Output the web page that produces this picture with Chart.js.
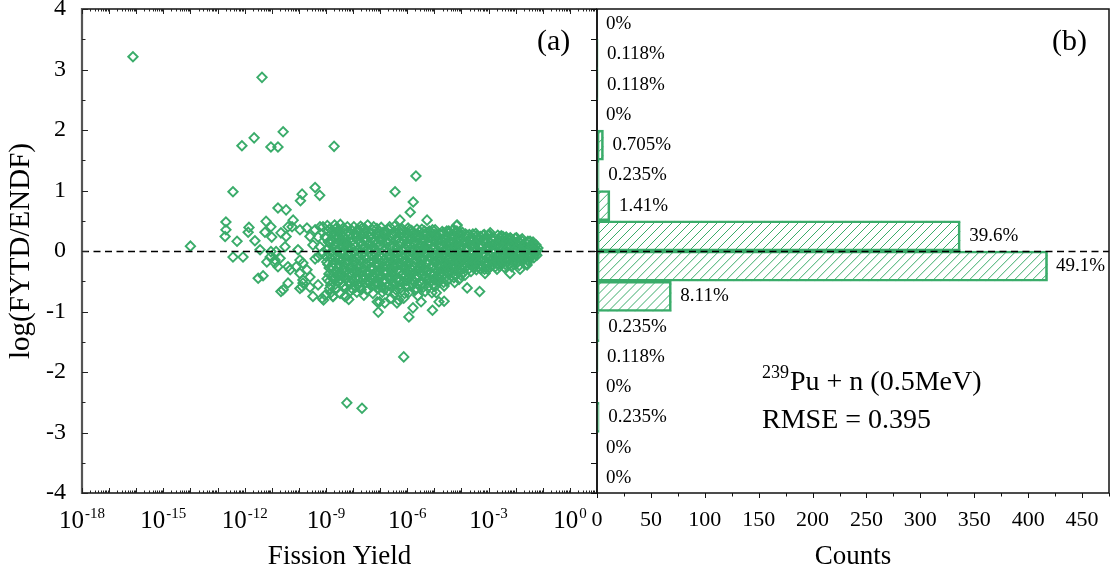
<!DOCTYPE html>
<html>
<head>
<meta charset="utf-8">
<script src="https://cdn.jsdelivr.net/npm/chart.js@4.4.1/dist/chart.umd.min.js"></script>
<style>
  html, body { margin: 0; padding: 0; background: #fff; }
  #wrap { position: relative; width: 1111px; height: 575px; overflow: hidden; background: #fff; }
  #scatter { position: absolute; left: 0; top: 0; }
  #hist { position: absolute; left: 590px; top: 0; }
</style>
</head>
<body>
<div id="wrap">
  <canvas id="scatter" width="600" height="575"></canvas>
  <canvas id="hist" width="521" height="575"></canvas>
</div>
<script>
// ---------------- data ----------------
// Each point: [log10(fission yield), log10(FYTD/ENDF)]
const farPoints = [
  [-16.12,3.21],[-11.36,2.87],[-12.10,1.74],[-11.65,1.87],[-11.03,1.72],[-10.77,1.72],[-10.58,1.97],[-8.70,1.73],
  [-14.00,0.08],
  [-12.43,0.98],[-9.40,1.05],[-9.23,0.92],[-9.88,0.94],[-9.94,0.83],
  [-5.68,1.24],[-6.45,0.98],[-5.78,0.81],[-5.89,0.64],[-6.27,0.51],[-5.27,0.51],[-4.18,0.42],
  [-8.23,-2.51],[-7.67,-2.60],[-6.13,-1.75],[-5.94,-1.09],[-7.07,-1.01],[-5.07,-0.98],
  [-4.64,-0.83],[-4.93,-0.69],[-3.33,-0.67],[-3.79,-0.61],[-5.49,-0.84],[-5.79,-0.94],[-6.38,-0.86],
  [-6.13,-0.78],[-7.02,-0.84],[-8.74,-0.75],[-9.09,-0.81],[-8.26,-0.75]
];

const lowYieldPoints = [
  [-12.69,0.48],[-12.69,0.35],[-12.72,0.24],[-12.28,0.16],[-12.43,-0.10],[-12.06,-0.10],[-11.87,0.31],[-11.84,0.39],
  [-11.62,0.17],[-11.25,0.31],[-11.21,0.49],[-11.43,0.02],[-11.50,-0.45],[-11.32,-0.41],
  [-10.77,0.71],[-10.47,0.68],[-10.21,0.51],
  [-11.03,0.40],[-11.00,0.23],[-10.66,0.30],[-10.47,0.24],[-10.84,-0.01],[-11.03,-0.01],[-10.69,-0.12],
  [-10.88,-0.20],[-10.77,-0.26],[-10.40,-0.26],[-10.32,-0.31],[-10.66,-0.67],[-10.58,-0.64],[-10.40,-0.53],
  [-10.51,0.07],[-10.40,0.40],[-10.25,0.40],[-9.96,0.35],[-10.03,0.02],[-9.70,0.38],[-9.59,0.24],[-9.40,0.35],
  [-9.22,0.40],[-9.11,0.40],[-9.29,0.23],[-9.03,0.23],[-9.96,-0.15],[-9.85,-0.20],[-10.10,-0.26],[-9.70,-0.31],
  [-9.96,-0.37],[-9.85,-0.48],[-9.59,-0.43],[-9.96,-0.62],[-9.85,-0.53],[-9.59,-0.60],[-9.48,-0.75],[-9.29,-0.56],
  [-9.14,-0.78],[-9.03,-0.73],[-9.29,-0.10],[-9.40,-0.13],[-9.14,-0.04],[-9.22,0.07],[-9.48,0.10],
  [-11.06,-0.10],[-10.88,-0.15],[-11.18,-0.18],[-9.88,-0.59]
];

const midYieldPoints = [
  [-8.95,0.42],[-8.62,0.38],[-8.80,0.29],[-8.55,0.21],[-8.91,0.15],[-8.70,0.09],[-8.58,0.02],[-8.86,-0.05],
  [-8.66,-0.11],[-8.97,-0.18],[-8.52,-0.22],[-8.75,-0.27],[-8.61,-0.33],[-8.89,-0.38],[-8.68,-0.44],[-8.56,-0.50],
  [-8.83,-0.57],[-8.74,-0.75],[-8.64,-0.63],[-8.93,0.33],[-8.51,0.30],[-8.78,0.18],[-8.60,-0.01],[-8.88,-0.28],
  [-8.71,-0.47],[-8.54,-0.14],[-8.99,-0.09],[-8.69,0.24],[-8.82,-0.69],[-8.57,0.12],

  [-8.47,0.44],[-8.30,0.36],[-8.12,0.27],[-8.41,0.19],[-8.22,0.11],[-8.05,0.05],[-8.36,-0.02],[-8.18,-0.08],
  [-8.44,-0.15],[-8.26,-0.21],[-8.08,-0.26],[-8.39,-0.31],[-8.15,-0.37],[-8.33,-0.43],[-8.02,-0.48],[-8.46,-0.54],
  [-8.26,-0.61],[-8.10,-0.66],[-8.30,-0.75],[-8.20,0.31],[-8.40,0.08],[-8.03,-0.12],[-8.28,-0.35],[-8.13,-0.55],
  [-8.37,0.23],[-8.06,0.16],[-8.23,-0.45],[-8.49,-0.24],[-8.16,-0.80],[-8.35,0.00],

  [-7.97,0.40],[-7.78,0.34],[-7.62,0.28],[-7.90,0.22],[-7.71,0.14],[-7.55,0.07],[-7.85,0.01],[-7.67,-0.06],
  [-7.52,-0.13],[-7.93,-0.19],[-7.75,-0.24],[-7.58,-0.30],[-7.88,-0.35],[-7.64,-0.41],[-7.81,-0.47],[-7.53,-0.52],
  [-7.95,-0.58],[-7.70,-0.64],[-7.60,-0.73],[-7.83,0.18],[-7.57,0.37],[-7.74,-0.16],[-7.92,-0.44],[-7.66,0.04],
  [-7.50,-0.36],[-7.86,-0.68],[-7.69,0.25],[-7.79,-0.55],[-7.54,-0.21],[-7.99,-0.02],

  [-7.46,0.43],[-7.28,0.35],[-7.10,0.30],[-7.39,0.23],[-7.21,0.16],[-7.04,0.09],[-7.34,0.03],[-7.16,-0.04],
  [-7.42,-0.10],[-7.25,-0.17],[-7.07,-0.23],[-7.37,-0.28],[-7.13,-0.34],[-7.31,-0.40],[-7.02,-0.46],[-7.44,-0.51],
  [-7.19,-0.57],[-7.06,-0.62],[-7.27,-0.70],[-7.11,-0.84],[-7.40,0.12],[-7.23,-0.29],[-7.01,0.20],[-7.33,-0.45],
  [-7.15,0.27],[-7.48,-0.22],[-7.09,-0.12],[-7.30,-0.07],[-7.18,-0.53],[-7.45,-0.64],

  [-6.96,0.39],[-6.79,0.33],[-6.61,0.26],[-6.90,0.20],[-6.72,0.13],[-6.55,0.06],[-6.85,0.00],[-6.66,-0.07],
  [-6.52,-0.14],[-6.93,-0.20],[-6.74,-0.25],[-6.58,-0.31],[-6.88,-0.36],[-6.63,-0.42],[-6.81,-0.48],[-6.54,-0.53],
  [-6.95,-0.59],[-6.70,-0.66],[-6.60,-0.78],[-6.83,-0.86],[-6.68,0.36],[-6.99,0.10],[-6.76,-0.17],[-6.57,-0.38],
  [-6.91,-0.50],[-6.64,0.17],[-6.51,-0.24],[-6.86,0.24],[-6.71,-0.57],[-6.98,-0.30],

  [-6.47,0.41],[-6.30,0.32],[-6.12,0.25],[-6.41,0.18],[-6.22,0.11],[-6.05,0.04],[-6.36,-0.02],[-6.18,-0.09],
  [-6.44,-0.15],[-6.26,-0.21],[-6.08,-0.27],[-6.39,-0.32],[-6.15,-0.38],[-6.33,-0.44],[-6.02,-0.49],[-6.46,-0.55],
  [-6.25,-0.62],[-6.10,-0.70],[-6.32,-0.81],[-6.20,0.37],[-6.04,0.29],[-6.38,0.07],[-6.14,-0.18],[-6.49,-0.40],
  [-6.28,0.14],[-6.06,-0.06],[-6.43,-0.26],[-6.17,-0.52],[-6.35,0.22],[-6.01,-0.35],

  [-5.97,0.38],[-5.80,0.31],[-5.63,0.26],[-5.91,0.19],[-5.73,0.12],[-5.56,0.05],[-5.86,-0.01],[-5.68,-0.08],
  [-5.53,-0.14],[-5.94,-0.19],[-5.76,-0.25],[-5.59,-0.30],[-5.89,-0.36],[-5.65,-0.41],[-5.82,-0.47],[-5.54,-0.52],
  [-5.96,-0.58],[-5.71,-0.65],[-5.61,-0.74],[-5.84,0.34],[-5.58,0.21],[-5.99,0.08],[-5.74,-0.04],[-5.51,-0.21],
  [-5.87,-0.28],[-5.66,-0.45],[-5.79,-0.56],[-5.92,-0.12],[-5.70,0.16],[-5.55,-0.36],

  [-5.46,0.36],[-5.29,0.30],[-5.11,0.24],[-5.40,0.17],[-5.22,0.10],[-5.04,0.04],[-5.35,-0.03],[-5.17,-0.09],
  [-5.43,-0.15],[-5.25,-0.20],[-5.07,-0.26],[-5.38,-0.31],[-5.14,-0.37],[-5.32,-0.42],[-5.01,-0.48],[-5.45,-0.53],
  [-5.24,-0.60],[-5.09,-0.69],[-5.34,-0.67],[-5.19,0.33],[-5.03,0.20],[-5.37,0.07],[-5.13,-0.12],[-5.48,-0.24],
  [-5.27,0.13],[-5.05,-0.05],[-5.42,-0.34],[-5.16,-0.46],[-5.30,0.26],[-5.02,-0.17],

  [-4.97,0.35],[-4.80,0.28],[-4.62,0.22],[-4.91,0.16],[-4.73,0.09],[-4.56,0.03],[-4.86,-0.03],[-4.68,-0.09],
  [-4.52,-0.14],[-4.94,-0.19],[-4.76,-0.24],[-4.59,-0.29],[-4.89,-0.34],[-4.65,-0.39],[-4.82,-0.45],[-4.54,-0.50],
  [-4.96,-0.58],[-4.64,-0.58],[-4.83,-0.84],[-4.71,0.32],[-4.99,0.06],[-4.58,0.13],[-4.78,-0.11],[-4.51,-0.21],
  [-4.87,0.25],[-4.67,-0.31],[-4.92,-0.41],[-4.60,0.19],[-4.74,-0.02],

  [-4.47,0.33],[-4.30,0.27],[-4.12,0.21],[-4.41,0.15],[-4.22,0.09],[-4.05,0.03],[-4.36,-0.02],[-4.18,-0.07],
  [-4.44,-0.12],[-4.26,-0.17],[-4.08,-0.22],[-4.39,-0.27],[-4.15,-0.31],[-4.33,-0.36],[-4.02,-0.40],[-4.46,-0.46],
  [-4.25,-0.52],[-4.16,0.43],[-4.06,0.30],[-4.29,0.36],[-4.38,0.05],[-4.13,-0.14],[-4.49,-0.21],[-4.21,0.18],
  [-4.03,-0.09],[-4.42,-0.33],[-4.10,0.12],[-4.34,-0.04],[-4.19,-0.26],[-4.27,0.24]
];

const coreExtraPoints = [
  [-8.90,0.05],[-8.73,-0.20],[-8.59,-0.40],[-8.85,0.37],[-8.65,-0.55],[-8.96,-0.46],[-8.53,0.35],[-8.77,0.00],
  [-8.63,0.27],[-8.81,-0.12],[-8.72,-0.36],[-8.98,0.22],[-8.55,-0.29],[-8.68,0.43],[-8.86,-0.62],
  [-8.43,-0.05],[-8.25,0.20],[-8.11,-0.40],[-8.34,-0.58],[-8.04,0.34],[-8.45,0.28],[-8.19,-0.18],[-8.31,0.13],
  [-8.07,-0.05],[-8.38,-0.40],[-8.21,0.40],[-8.14,-0.28],[-8.48,-0.70],[-8.01,-0.34],[-8.29,-0.10],
  [-7.94,0.29],[-7.76,-0.37],[-7.61,-0.03],[-7.87,-0.13],[-7.72,0.41],[-7.51,0.18],[-7.82,-0.29],[-7.63,-0.48],
  [-7.98,-0.50],[-7.56,0.30],[-7.68,0.10],[-7.89,0.08],[-7.77,-0.60],[-7.59,-0.10],[-7.84,0.35],
  [-7.43,-0.37],[-7.26,0.08],[-7.08,-0.55],[-7.35,0.28],[-7.20,-0.44],[-7.03,-0.08],[-7.47,0.19],[-7.12,0.37],
  [-7.38,-0.18],[-7.24,0.40],[-7.05,-0.33],[-7.32,-0.58],[-7.17,0.02],[-7.41,-0.03],[-7.29,-0.49],
  [-6.94,-0.11],[-6.77,0.05],[-6.62,-0.46],[-6.89,0.31],[-6.73,-0.35],[-6.56,0.29],[-6.97,-0.42],[-6.67,-0.20],
  [-6.84,-0.63],[-6.53,-0.05],[-6.80,0.15],[-6.65,0.40],[-6.92,-0.26],[-6.59,-0.60],[-6.75,-0.02],
  [-6.45,-0.08],[-6.27,-0.35],[-6.11,0.16],[-6.40,-0.48],[-6.23,0.30],[-6.07,-0.58],[-6.34,-0.12],[-6.16,0.02],
  [-6.48,0.26],[-6.29,-0.50],[-6.03,0.21],[-6.37,0.35],[-6.21,-0.25],[-6.09,-0.15],[-6.42,-0.64],
  [-5.95,-0.43],[-5.78,0.02],[-5.62,-0.55],[-5.88,-0.06],[-5.72,0.28],[-5.57,-0.27],[-5.83,0.22],[-5.67,-0.17],
  [-5.98,0.30],[-5.53,0.10],[-5.81,-0.38],[-5.64,0.36],[-5.93,-0.68],[-5.75,-0.50],[-5.60,0.00],
  [-5.44,-0.40],[-5.26,-0.05],[-5.10,0.30],[-5.39,0.27],[-5.21,-0.32],[-5.06,-0.56],[-5.33,-0.19],[-5.15,0.15],
  [-5.47,0.09],[-5.28,-0.48],[-5.04,-0.38],[-5.36,0.33],[-5.20,0.02],[-5.12,-0.27],[-5.41,-0.60],
  [-4.95,-0.08],[-4.77,0.18],[-4.61,-0.45],[-4.88,-0.51],[-4.72,-0.18],[-4.55,0.26],[-4.84,0.08],[-4.66,0.30],
  [-4.98,0.27],[-4.53,-0.35],[-4.81,-0.28],[-4.63,-0.02],[-4.90,-0.23],[-4.70,-0.42],[-4.57,-0.10],
  [-4.45,0.00],[-4.28,-0.44],[-4.11,-0.35],[-4.40,0.25],[-4.23,-0.10],[-4.07,0.18],[-4.35,0.13],[-4.17,0.33],
  [-4.48,-0.38],[-4.31,-0.24],[-4.04,-0.28],[-4.37,-0.15],[-4.20,0.05],[-4.09,-0.47],[-4.43,0.31],
  [-3.92,-0.35],[-3.78,0.04],[-3.61,-0.15],[-3.85,0.28],[-3.69,0.18],[-3.55,-0.28],[-3.96,-0.05],[-3.74,-0.30],
  [-3.60,0.09],[-3.88,-0.20],
  [-3.43,0.25],[-3.27,-0.24],[-3.11,-0.08],[-3.37,0.08],[-3.21,0.17],[-3.04,-0.30],[-3.46,-0.20],[-3.16,0.27],
  [-3.32,-0.12],[-3.09,0.02],
  [-2.95,-0.27],[-2.79,0.02],[-2.63,-0.22],[-2.90,0.21],[-2.72,-0.14],[-2.57,0.08],[-2.85,0.10],[-2.66,0.26],
  [-2.53,-0.20],
  [-2.46,-0.18],[-2.29,0.12],[-2.13,-0.10],[-2.40,0.00],[-2.24,-0.22],[-2.07,0.10],[-2.35,0.23],[-2.17,0.20],
  [-1.96,-0.20],[-1.79,-0.10],[-1.62,0.05],[-1.90,0.17],[-1.72,-0.14],[-1.57,-0.15],[-1.85,0.05]
];

const coreDensePoints = [
  [-8.93,-0.22],[-8.84,0.12],[-8.76,-0.42],[-8.67,0.31],[-8.58,-0.08],[-8.50,-0.38],[-8.42,0.16],[-8.33,-0.27],
  [-8.24,0.05],[-8.15,-0.50],[-8.07,0.22],[-8.98,0.02],[-8.61,-0.62],[-8.38,0.37],[-8.19,-0.14],[-8.02,-0.63],
  [-8.88,-0.50],[-8.45,-0.47],
  [-7.96,-0.28],[-7.87,0.27],[-7.79,-0.08],[-7.70,-0.33],[-7.62,0.19],[-7.53,-0.44],[-7.45,0.03],[-7.36,-0.52],
  [-7.28,0.22],[-7.19,-0.22],[-7.11,0.13],[-7.02,-0.38],[-7.91,-0.60],[-7.66,0.38],[-7.48,-0.65],[-7.24,-0.10],
  [-7.07,0.33],[-7.83,-0.42],
  [-6.97,0.16],[-6.88,-0.15],[-6.80,0.28],[-6.71,-0.43],[-6.62,0.08],[-6.54,-0.33],[-6.45,0.30],[-6.37,-0.22],
  [-6.28,-0.57],[-6.20,0.02],[-6.11,-0.42],[-6.03,0.12],[-6.92,-0.68],[-6.66,-0.12],[-6.49,-0.71],[-6.24,0.35],
  [-6.07,-0.25],[-6.84,-0.35],
  [-5.97,-0.23],[-5.88,0.10],[-5.80,-0.48],[-5.71,0.22],[-5.62,-0.10],[-5.54,0.32],[-5.45,-0.27],[-5.37,0.02],
  [-5.28,-0.35],[-5.20,0.22],[-5.11,-0.50],[-5.03,-0.08],[-5.92,0.35],[-5.66,-0.62],[-5.49,0.16],[-5.24,-0.15],
  [-5.07,0.35],[-5.84,-0.31],
  [-4.97,-0.30],[-4.88,0.20],[-4.80,-0.40],[-4.71,0.04],[-4.62,-0.22],[-4.54,0.33],[-4.45,-0.30],[-4.37,0.20],
  [-4.28,-0.07],[-4.20,-0.40],[-4.11,0.27],[-4.03,-0.18],[-4.92,0.00],[-4.66,-0.52],[-4.49,0.10],[-4.24,0.30],
  [-4.07,0.06],[-4.84,-0.15],
  [-3.97,-0.10],[-3.88,0.12],[-3.79,-0.24],[-3.71,0.27],[-3.62,-0.06],[-3.54,0.20],[-3.45,-0.16],[-3.37,0.18],
  [-3.28,-0.30],[-3.20,0.26],[-3.11,-0.17],[-3.03,0.09],
  [-2.97,-0.08],[-2.86,0.19],[-2.75,-0.26],[-2.64,0.06],[-2.53,0.25],[-2.42,-0.27],[-2.31,-0.05],[-2.20,0.22],
  [-2.09,-0.22],[-1.98,0.12],[-1.87,-0.24],[-1.76,0.20],[-1.65,0.01],[-1.54,-0.17]
];

const highYieldPoints = [
  [-3.97,0.31],[-3.80,0.26],[-3.62,0.21],[-3.91,0.16],[-3.73,0.11],[-3.56,0.06],[-3.86,0.01],[-3.68,-0.04],
  [-3.53,-0.09],[-3.94,-0.14],[-3.76,-0.19],[-3.59,-0.24],[-3.89,-0.29],[-3.65,-0.34],[-3.87,-0.40],[-3.84,0.22],
  [-3.58,0.28],[-3.99,0.08],[-3.70,-0.12],[-3.51,0.14],[-3.82,-0.07],[-3.64,-0.21],[-3.95,-0.26],[-3.54,-0.02],

  [-3.47,0.29],[-3.30,0.24],[-3.12,0.19],[-3.41,0.14],[-3.22,0.09],[-3.05,0.04],[-3.36,-0.01],[-3.18,-0.06],
  [-3.44,-0.11],[-3.26,-0.16],[-3.08,-0.21],[-3.39,-0.26],[-3.15,-0.30],[-3.13,-0.37],[-3.33,0.20],[-3.02,0.26],
  [-3.48,0.02],[-3.20,-0.03],[-3.01,-0.12],[-3.38,-0.19],[-3.10,0.12],[-3.28,0.06],[-3.45,-0.31],[-3.06,-0.25],

  [-2.97,0.27],[-2.80,0.22],[-2.62,0.18],[-2.91,0.13],[-2.73,0.08],[-2.56,0.03],[-2.86,-0.02],[-2.68,-0.06],
  [-2.52,-0.11],[-2.94,-0.16],[-2.76,-0.20],[-2.59,-0.25],[-2.69,-0.30],[-2.94,0.30],[-2.84,0.17],[-2.58,0.23],
  [-2.99,0.05],[-2.70,0.11],[-2.51,-0.03],[-2.82,-0.12],[-2.64,-0.17],[-2.88,-0.24],[-2.55,0.14],[-2.75,0.00],
  [-2.60,-0.08],

  [-2.47,0.24],[-2.30,0.20],[-2.12,0.16],[-2.41,0.12],[-2.22,0.07],[-2.05,0.03],[-2.36,-0.02],[-2.18,-0.06],
  [-2.44,-0.10],[-2.26,-0.14],[-2.08,-0.18],[-2.39,-0.22],[-2.21,-0.37],[-2.15,-0.26],[-2.33,0.17],[-2.02,0.21],
  [-2.48,0.06],[-2.20,0.10],[-2.01,-0.09],[-2.38,-0.16],[-2.10,0.00],[-2.28,0.04],[-2.45,-0.05],[-2.06,-0.13],

  [-1.97,0.22],[-1.80,0.18],[-1.63,0.14],[-1.91,0.10],[-1.73,0.06],[-1.56,0.02],[-1.86,-0.02],[-1.68,-0.06],
  [-1.53,-0.09],[-1.94,-0.13],[-1.76,-0.17],[-1.59,-0.21],[-1.84,-0.30],[-1.58,-0.23],[-1.82,0.12],[-1.55,0.16],
  [-1.99,0.04],[-1.70,0.09],[-1.51,-0.04],[-1.88,-0.08],[-1.65,-0.12],[-1.78,0.01],

  [-1.47,0.16],[-1.36,0.15],[-1.25,0.10],[-1.42,0.07],[-1.30,0.04],[-1.20,0.01],[-1.38,-0.02],[-1.27,-0.05],
  [-1.45,-0.08],[-1.33,-0.11],[-1.22,-0.07],[-1.40,0.11],[-1.18,0.05],[-1.29,-0.01],[-1.49,-0.13],[-1.35,0.02]
];

// Histogram of log10(FYTD/ENDF): 0.5-wide bins, listed from the top bin down
const binCenters = [3.75, 3.25, 2.75, 2.25, 1.75, 1.25, 0.75, 0.25, -0.25, -0.75, -1.25, -1.75, -2.25, -2.75, -3.25, -3.75];
const binCounts  = [0, 1, 1, 0, 6, 2, 12, 337, 418, 69, 2, 1, 0, 2, 0, 0];

// Axis ticks
const yieldTickExps = [-18, -15, -12, -9, -6, -3, 0];
const ratioTicks = [-4, -3, -2, -1, 0, 1, 2, 3, 4];
const countTicks = [0, 50, 100, 150, 200, 250, 300, 350, 400, 450];

// ---------------- styling ----------------
const GREEN = 'rgb(58,172,106)';
const SERIF = "'Liberation Serif', 'Times New Roman', 'DejaVu Serif', serif";
Chart.defaults.font.family = SERIF;
Chart.defaults.color = '#000';

const scatterData = [...farPoints, ...lowYieldPoints, ...midYieldPoints, ...coreExtraPoints,
                     ...coreDensePoints, ...highYieldPoints]
  .map(p => ({ x: Math.pow(10, p[0]), y: p[1] }));

// fixed axis box sizes, no extra room for overhanging labels
function fixBox(size, horizontal) {
  return s => {
    if (horizontal) s.height = size; else s.width = size;
    s.paddingTop = s.paddingBottom = s.paddingLeft = s.paddingRight = 0;
  };
}

function zeroLine(ctx, a, ys) {
  const y0 = Math.round(ys.getPixelForValue(0)) + 0.5;
  ctx.save();
  ctx.setLineDash([7, 4.5]);
  ctx.lineWidth = 1.4;
  ctx.strokeStyle = '#000';
  ctx.beginPath();
  ctx.moveTo(a.left, y0);
  ctx.lineTo(a.right, y0);
  ctx.stroke();
  ctx.restore();
}

function seg(ctx, x1, y1, x2, y2) {
  ctx.moveTo(x1, y1); ctx.lineTo(x2, y2);
}

// ---------------- panel (a): scatter ----------------
const scatterDecor = {
  id: 'scatterDecor',
  afterDatasetsDraw(chart) {
    const { ctx, chartArea: a } = chart;
    const xs = chart.scales.x, ys = chart.scales.y;
    zeroLine(ctx, a, ys);
    ctx.save();
    // frame
    ctx.strokeStyle = '#111';
    ctx.lineWidth = 1.5;
    ctx.beginPath();
    seg(ctx, a.left, a.top, a.right, a.top);
    seg(ctx, a.right, a.top, a.right, a.bottom);
    seg(ctx, a.left, a.bottom, a.right, a.bottom);
    ctx.stroke();
    ctx.strokeStyle = '#555';
    ctx.lineWidth = 2.2;
    ctx.beginPath();
    seg(ctx, a.left, a.top - 1, a.left, a.bottom + 1);
    ctx.stroke();
    // inward ticks
    ctx.strokeStyle = '#222';
    ctx.lineWidth = 1;
    ctx.beginPath();
    for (let e = -18; e <= 0; e++) {
      for (let k = 1; k <= 9; k++) {
        const px = Math.round(xs.getPixelForValue(k * Math.pow(10, e))) + 0.5;
        const len = k === 1 ? 5 : 2.5;
        seg(ctx, px, a.bottom, px, a.bottom - len);
        seg(ctx, px, a.top, px, a.top + len);
      }
    }
    for (let v = -4; v <= 4; v += 0.5) {
      const py = Math.round(ys.getPixelForValue(v)) + 0.5;
      const len = Number.isInteger(v) ? 6 : 3.5;
      seg(ctx, a.left, py, a.left + len, py);
    }
    ctx.stroke();
    // decade labels with superscript exponents
    ctx.fillStyle = '#000';
    ctx.textAlign = 'left';
    ctx.textBaseline = 'alphabetic';
    yieldTickExps.forEach(e => {
      const px = xs.getPixelForValue(Math.pow(10, e));
      const base = '10', sup = e === 0 ? '0' : '-' + Math.abs(e);
      ctx.font = '25px ' + SERIF;
      const wb = ctx.measureText(base).width;
      ctx.font = '15px ' + SERIF;
      const ws = ctx.measureText(sup).width;
      const x0 = px - (wb + ws + 1) / 2;
      ctx.font = '25px ' + SERIF;
      ctx.fillText(base, x0, a.bottom + 35);
      ctx.font = '15px ' + SERIF;
      ctx.fillText(sup, x0 + wb + 1, a.bottom + 25);
    });
    // panel tag
    ctx.font = '30px ' + SERIF;
    ctx.textBaseline = 'middle';
    ctx.fillText('(a)', a.left + 455, a.top + 33);
    ctx.restore();
  }
};

new Chart(document.getElementById('scatter'), {
  type: 'scatter',
  data: {
    datasets: [{
      data: scatterData,
      pointStyle: 'rectRot',
      radius: 4.7,
      hoverRadius: 4.7,
      borderWidth: 1.9,
      borderColor: GREEN,
      backgroundColor: 'rgba(0,0,0,0)'
    }]
  },
  options: {
    responsive: false,
    animation: false,
    events: [],
    layout: { autoPadding: false, padding: { left: 0, right: 3, top: 9, bottom: 0 } },
    plugins: { legend: { display: false }, tooltip: { enabled: false } },
    scales: {
      x: {
        type: 'logarithmic',
        min: 1e-18,
        max: 10,
        grid: { display: false, drawTicks: false },
        border: { display: false },
        ticks: { display: false },
        title: { display: true, text: 'Fission Yield', font: { size: 27 }, color: '#000', padding: { top: 0, bottom: 2 } },
        afterFit: fixBox(82, true)
      },
      y: {
        type: 'linear',
        min: -4,
        max: 4,
        afterBuildTicks: s => { s.ticks = ratioTicks.map(v => ({ value: v })); },
        grid: { display: false, drawTicks: false },
        border: { display: false },
        ticks: { font: { size: 24 }, color: '#000', padding: 16 },
        title: { display: true, text: 'log(FYTD/ENDF)', font: { size: 29 }, color: '#000', padding: { top: 4, bottom: 0 } },
        afterFit: fixBox(82, false)
      }
    }
  },
  plugins: [scatterDecor]
});

// ---------------- panel (b): histogram ----------------
const totalCount = binCounts.reduce((s, n) => s + n, 0);

const histDecor = {
  id: 'histDecor',
  // diagonal hatching inside each bar, taken from the bar elements' geometry
  beforeDatasetsDraw(chart) {
    const { ctx } = chart;
    const step = 9;
    ctx.save();
    ctx.strokeStyle = GREEN;
    ctx.lineWidth = 1;
    chart.getDatasetMeta(0).data.forEach(bar => {
      const { x, y, base, height } = bar.getProps(['x', 'y', 'base', 'height'], true);
      const left = Math.min(x, base), right = Math.max(x, base);
      const top = y - height / 2, bottom = y + height / 2, h = bottom - top;
      if (right - left < 3) return;
      ctx.save();
      ctx.beginPath();
      ctx.rect(left, top, right - left, h);
      ctx.clip();
      ctx.beginPath();
      for (let k = Math.floor((left - h) / step) * step; k < right + step; k += step) {
        seg(ctx, k, bottom, k + h, top);
      }
      ctx.stroke();
      ctx.restore();
    });
    ctx.restore();
  },
  afterDatasetsDraw(chart) {
    const { ctx, chartArea: a } = chart;
    const xs = chart.scales.x, ys = chart.scales.y;
    zeroLine(ctx, a, ys);
    ctx.save();
    ctx.strokeStyle = '#111';
    ctx.lineWidth = 1.5;
    ctx.strokeRect(a.left, a.top, a.right - a.left, a.bottom - a.top);
    // outward ticks
    ctx.lineWidth = 1;
    ctx.beginPath();
    for (let v = 0; v <= 475; v += 25) {
      const px = Math.round(xs.getPixelForValue(v)) + 0.5;
      const len = v % 50 === 0 ? 5 : 3.5;
      seg(ctx, px, a.bottom, px, a.bottom + len);
    }
    for (let v = -4; v <= 4; v += 0.5) {
      const py = Math.round(ys.getPixelForValue(v)) + 0.5;
      seg(ctx, a.left, py, a.left - 6, py);
    }
    ctx.stroke();
    // share of each bin
    ctx.fillStyle = '#000';
    ctx.font = '19px ' + SERIF;
    ctx.textAlign = 'left';
    ctx.textBaseline = 'middle';
    binCenters.forEach((c, i) => {
      const n = binCounts[i];
      const txt = (n === 0 ? '0' : (n / totalCount * 100).toPrecision(3)) + '%';
      const w = ctx.measureText(txt).width;
      const x = Math.min(xs.getPixelForValue(n) + 9, a.right - w - 4);
      ctx.fillText(txt, x, ys.getPixelForValue(c));
    });
    // panel tag and note
    ctx.font = '30px ' + SERIF;
    ctx.fillText('(b)', a.left + 455, a.top + 33);
    ctx.textBaseline = 'alphabetic';
    const nx = a.left + 165;
    ctx.font = '18px ' + SERIF;
    ctx.fillText('239', nx, a.top + 369);
    const wSup = ctx.measureText('239').width;
    ctx.font = '28px ' + SERIF;
    ctx.fillText('Pu + n (0.5MeV)', nx + wSup + 1, a.top + 381);
    ctx.fillText('RMSE = 0.395', nx, a.top + 419);
    ctx.restore();
  }
};

new Chart(document.getElementById('hist'), {
  type: 'bar',
  data: {
    datasets: [{
      data: binCenters.map((c, i) => ({ x: binCounts[i], y: c })),
      backgroundColor: 'rgba(0,0,0,0)',
      borderColor: GREEN,
      borderWidth: 2,
      borderSkipped: false,
      barPercentage: 1,
      categoryPercentage: 1
    }]
  },
  options: {
    indexAxis: 'y',
    responsive: false,
    animation: false,
    events: [],
    layout: { autoPadding: false, padding: { left: 0, right: 2, top: 9, bottom: 0 } },
    plugins: { legend: { display: false }, tooltip: { enabled: false } },
    scales: {
      x: {
        type: 'linear',
        min: 0,
        max: 475,
        afterBuildTicks: s => { s.ticks = countTicks.map(v => ({ value: v })); },
        grid: { display: false, drawTicks: false },
        border: { display: false },
        ticks: { font: { size: 22 }, color: '#000', padding: 14, maxRotation: 0 },
        title: { display: true, text: 'Counts', font: { size: 27 }, color: '#000', padding: { top: 0, bottom: 2 } },
        afterFit: fixBox(82, true)
      },
      y: {
        type: 'linear',
        min: -4,
        max: 4,
        offset: false,
        grid: { display: false, drawTicks: false, offset: false },
        border: { display: false },
        ticks: { display: false, stepSize: 0.5 },
        afterFit: fixBox(7, false)
      }
    }
  },
  plugins: [histDecor]
});
</script>
</body>
</html>
